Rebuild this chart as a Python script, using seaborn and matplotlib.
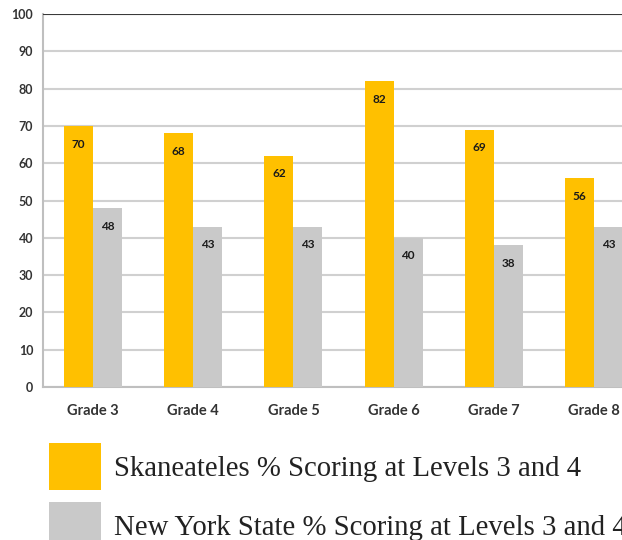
import pandas as pd
import matplotlib.pyplot as plt
import seaborn as sns
from matplotlib.patches import Patch

# Dados
grades = ["Grade 3", "Grade 4", "Grade 5", "Grade 6", "Grade 7", "Grade 8"]
skaneateles = [70, 68, 62, 82, 69, 56]
nys = [48, 43, 43, 40, 38, 43]
series = ["Skaneateles % Scoring at Levels 3 and 4",
          "New York State % Scoring at Levels 3 and 4"]
colors = ["#FFC000", "#C9C9C9"]

df = pd.DataFrame({
    "grade": grades * 2,
    "valor": skaneateles + nys,
    "serie": [series[0]] * len(grades) + [series[1]] * len(grades),
})

sns.set_style("white")
plt.rcParams['font.family'] = ['Lato', 'DejaVu Sans']

fig = plt.figure(figsize=(6.22, 5.40), dpi=100)
# eixo maior que a figura: o gráfico original aparece cortado à direita
ax = fig.add_axes([43 / 622, 153 / 540, 601 / 622, 373 / 540])

sns.barplot(data=df, x="grade", y="valor", hue="serie", palette=colors,
            width=0.58, gap=0, saturation=1, legend=False, ax=ax, zorder=3,
            edgecolor="none", linewidth=0)

ax.set_ylim(0, 100)
ax.set_xlim(-0.5, 5.5)
ax.set_yticks(range(0, 101, 10))
ax.set_xlabel("")
ax.set_ylabel("")
ax.yaxis.grid(True, color="#D0D0D0", linewidth=1.5, zorder=0)
ax.axhline(100, color="#3A3A3A", linewidth=1.5, zorder=4)
for s in ["top", "right"]:
    ax.spines[s].set_visible(False)
for s in ["left", "bottom"]:
    ax.spines[s].set_color("#BFBFBF")
    ax.spines[s].set_linewidth(1.5)
ax.tick_params(axis="both", length=0, colors="#333333")
ax.tick_params(axis="y", pad=7, labelsize=9)
ax.tick_params(axis="x", pad=12, labelsize=10.5)
for lbl in ax.get_xticklabels() + ax.get_yticklabels():
    lbl.set_fontweight("bold")

# rótulos dentro das barras
for cont in ax.containers:
    ax.bar_label(cont, labels=[f"{v:.0f}" for v in cont.datavalues],
                 padding=-17, fontsize=8.5, fontweight="bold", color="#1A1A1A")

# Legenda (quadrados grandes, texto serifado)
handles = [Patch(facecolor=c, edgecolor="none") for c in colors]
fig.legend(handles, series, loc="upper left",
           bbox_to_anchor=(49 / 622, 1 - 443 / 540), bbox_transform=fig.transFigure,
           frameon=False, borderpad=0, borderaxespad=0,
           handlelength=1.81, handleheight=2.14, handletextpad=0.45,
           labelspacing=0.42,
           prop={"family": "Liberation Serif", "size": 20.7})
for t in fig.legends[0].get_texts():
    t.set_color("#222222")

fig.savefig("out.png", dpi=100)
